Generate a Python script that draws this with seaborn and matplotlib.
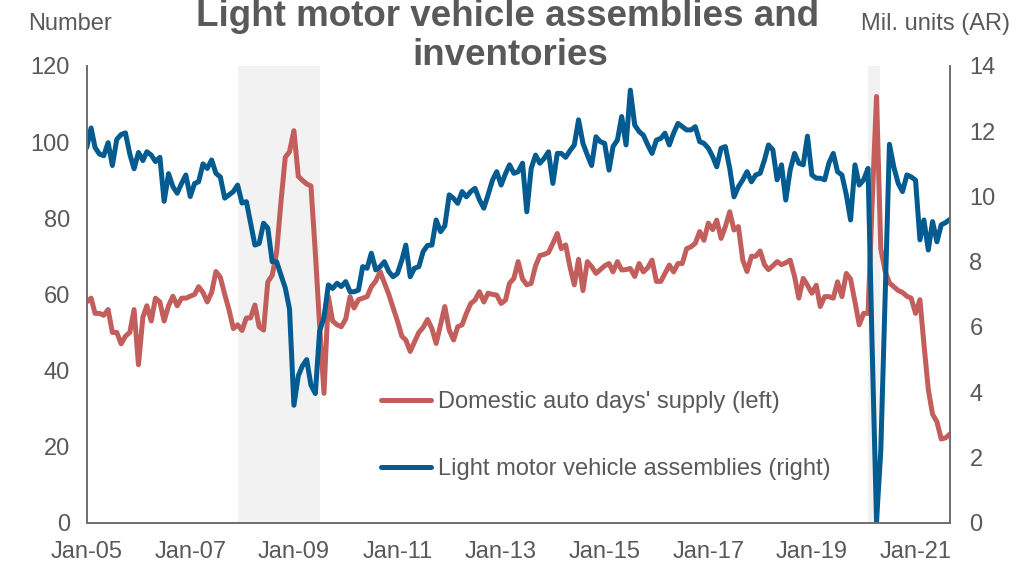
import matplotlib
matplotlib.use("Agg")
import matplotlib.pyplot as plt
import matplotlib.dates as mdates
import seaborn as sns
import pandas as pd
import numpy as np

# ---- data ----
dates = pd.date_range("2005-01-01", periods=201, freq="MS")

days_supply = [
    58, 59, 55, 55, 54.5, 56, 50, 50, 47, 49, 50, 56,            # 2005
    41.5, 54, 57, 53, 59, 58, 53, 57, 59.5, 57, 59, 59,          # 2006
    59.5, 60, 62, 60.5, 58, 60.5, 66, 64.5, 60, 56, 51, 52,      # 2007
    50.5, 53.8, 53.8, 57.2, 51.5, 50.6, 63.3, 65, 71, 84, 96, 97.5,  # 2008
    103, 91, 90, 89, 88.5, 71, 52, 34, 59.4, 53, 52, 51.5,      # 2009
    53.5, 59.4, 56.4, 58.6, 59, 59.4, 62, 63.5, 66, 63, 60, 56.5,    # 2010
    53, 49, 48, 45, 47.5, 50, 51.3, 53.4, 51, 47.1, 52, 56.8,   # 2011
    50.6, 48, 51.5, 52, 55, 57.6, 58.5, 60.7, 58, 60.3, 60, 59.8,    # 2012
    57.6, 58.5, 62.9, 64.2, 68.6, 64, 62.5, 62.9, 67.5, 70.2, 70.5, 71,  # 2013
    73.4, 76, 72, 73, 67.3, 62.5, 69.2, 61, 68.6, 67.3, 65.5, 66.5,  # 2014
    67.5, 68.1, 65.9, 68.6, 66.4, 66.5, 66.8, 64.7, 68.1, 65.9, 67, 69,  # 2015
    63.4, 63.4, 65.5, 67.7, 65.9, 68.1, 68.1, 72, 72.5, 73.4, 76.5, 74.2,  # 2016
    78.7, 77, 79.5, 74.7, 77.8, 81.7, 76.9, 77.8, 69, 66, 70, 70,   # 2017
    71.4, 67.8, 66.5, 67.5, 68.6, 67.8, 68.3, 69, 64.7, 59, 64.2, 62.4,  # 2018
    60.3, 62.4, 56.8, 59.4, 59.4, 59, 63.3, 59.4, 65.5, 64, 58, 52,  # 2019
    55, 55, 84, 112, 72, 66, 63, 62, 61, 60.5, 59.5, 59,        # 2020
    55, 58.6, 47, 35, 28.5, 26.5, 22, 22.3, 23.3,               # 2021
]

assemblies = [
    11.5, 12.1, 11.5, 11.3, 11.25, 11.65, 10.95, 11.75, 11.9, 11.95, 11.3, 10.85,  # 2005
    11.35, 11.1, 11.37, 11.27, 11.07, 11.2, 9.85, 10.7, 10.3, 10.1, 10.4, 10.66,   # 2006
    10.0, 10.4, 10.45, 11.0, 10.86, 11.12, 10.71, 10.6, 9.95, 10.05, 10.15, 10.35,  # 2007
    9.8, 9.84, 9.2, 8.51, 8.56, 9.18, 9.03, 8.0, 8.0, 7.6, 7.2, 6.55,   # 2008
    3.6, 4.5, 4.8, 5.0, 4.22, 3.96, 5.86, 6.3, 7.29, 7.18, 7.34, 7.24,  # 2009
    7.39, 7.08, 7.08, 7.13, 7.85, 7.8, 8.26, 7.75, 7.85, 8.0, 7.7, 7.54,   # 2010
    7.64, 8.05, 8.51, 7.54, 7.8, 7.85, 8.31, 8.5, 8.51, 9.28, 8.92, 9.1,  # 2011
    10.05, 9.94, 9.79, 10.15, 9.99, 10.15, 10.25, 9.9, 9.64, 10.05, 10.5, 10.76,  # 2012
    10.35, 10.7, 10.97, 10.71, 10.76, 11.02, 9.53, 10.86, 11.27, 11.02, 11.17, 11.37,  # 2013
    10.4, 11.32, 11.32, 11.2, 11.4, 11.58, 12.35, 11.63, 11.27, 10.95, 11.83, 11.68,  # 2014
    11.63, 10.81, 11.53, 11.73, 12.45, 11.58, 13.26, 12.19, 11.99, 11.88, 11.58, 11.32,  # 2015
    11.73, 11.78, 11.94, 11.58, 11.94, 12.24, 12.14, 12.04, 12.04, 12.14, 11.68, 11.63,  # 2016
    11.48, 11.22, 10.91, 11.48, 11.53, 10.86, 9.99, 10.3, 10.51, 10.76, 10.45, 10.66,  # 2017
    10.71, 11.12, 11.58, 11.43, 10.51, 10.97, 9.89, 10.81, 11.32, 11.02, 10.97, 11.85,  # 2018
    10.66, 10.56, 10.56, 10.51, 11.02, 11.32, 10.76, 10.66, 10.05, 9.28, 10.97, 10.35,  # 2019
    10.51, 10.86, 5.4, 0.05, 2.2, 7.0, 11.6, 10.9, 10.4, 10.15, 10.66, 10.6,  # 2020
    10.5, 8.67, 9.28, 8.36, 9.23, 8.61, 9.13, 9.2, 9.3,   # 2021
]

tick_dates = pd.date_range("2005-01-01", "2021-01-01", freq="24MS")
recessions = [("2007-12-01", "2009-07-01"), ("2020-02-01", "2020-04-22")]
labels = ["Domestic auto days' supply (left)", "Light motor vehicle assemblies (right)"]

RED = "#C25F5C"
BLUE = "#035B8F"
GRAY_TXT = "#595959"
SPINE = "#707070"

sns.set_style("white")
plt.rcParams["font.family"] = ["Liberation Sans", "DejaVu Sans"]

df = pd.DataFrame({"date": dates, "days": days_supply, "asm": assemblies})

fig = plt.figure(figsize=(10.12, 5.63), dpi=100)
ax = fig.add_axes([86.7 / 1012, 1 - 522.7 / 563, (950 - 86.7) / 1012, (522.7 - 66) / 563])
ax2 = ax.twinx()

for s, e in recessions:
    ax.axvspan(pd.Timestamp(s), pd.Timestamp(e), color="#F2F2F2", lw=0, zorder=0)

sns.lineplot(data=df, x="date", y="days", ax=ax, color=RED, linewidth=3.6, legend=False)
sns.lineplot(data=df, x="date", y="asm", ax=ax2, color=BLUE, linewidth=3.6, legend=False)
for l in ax.get_lines() + ax2.get_lines():
    l.set_solid_joinstyle("round")
    l.set_solid_capstyle("round")

ax.set_xlim(dates[0], dates[-1])
ax.set_ylim(0, 120)
ax2.set_ylim(0, 14)
ax.set_yticks(np.arange(0, 121, 20))
ax2.set_yticks(np.arange(0, 15, 2))
ax.set_xticks(tick_dates)
ax.xaxis.set_major_formatter(mdates.DateFormatter("%b-%y"))

for a in (ax, ax2):
    a.set_xlabel("")
    a.set_ylabel("")
    a.grid(False)
    for sp in a.spines.values():
        sp.set_color(SPINE)
        sp.set_linewidth(1.3)
    a.spines["top"].set_visible(False)

ax.tick_params(axis="x", direction="out", length=7, width=1.3, color=SPINE,
               labelsize=17, labelcolor=GRAY_TXT, pad=6)
ax.tick_params(axis="y", length=0, labelsize=17, labelcolor=GRAY_TXT, pad=12)
ax2.tick_params(axis="y", length=0, labelsize=17, labelcolor=GRAY_TXT, pad=14)

fig.text(0.502, 1 - 26 / 563, "Light motor vehicle assemblies and", ha="center", va="baseline",
         fontsize=26.5, fontweight="bold", color=GRAY_TXT)
fig.text(0.504, 1 - 65 / 563, "inventories", ha="center", va="baseline",
         fontsize=26.5, fontweight="bold", color=GRAY_TXT)
fig.text(28 / 1012, 1 - 30 / 563, "Number", ha="left", va="baseline", fontsize=17, color=GRAY_TXT)
fig.text(1010 / 1012, 1 - 30 / 563, "Mil. units (AR)", ha="right", va="baseline", fontsize=17, color=GRAY_TXT)

handles = [ax.get_lines()[0], ax2.get_lines()[0]]
leg = ax2.legend(handles, labels, loc="upper left", bbox_to_anchor=(381 / 1012, 1 - 391 / 563),
                 bbox_transform=fig.transFigure, frameon=False, fontsize=17,
                 handlelength=2.1, handletextpad=0.3, labelspacing=1.92,
                 borderpad=0, borderaxespad=0)
for t in leg.get_texts():
    t.set_color(GRAY_TXT)

fig.savefig("out.png", dpi=100)
